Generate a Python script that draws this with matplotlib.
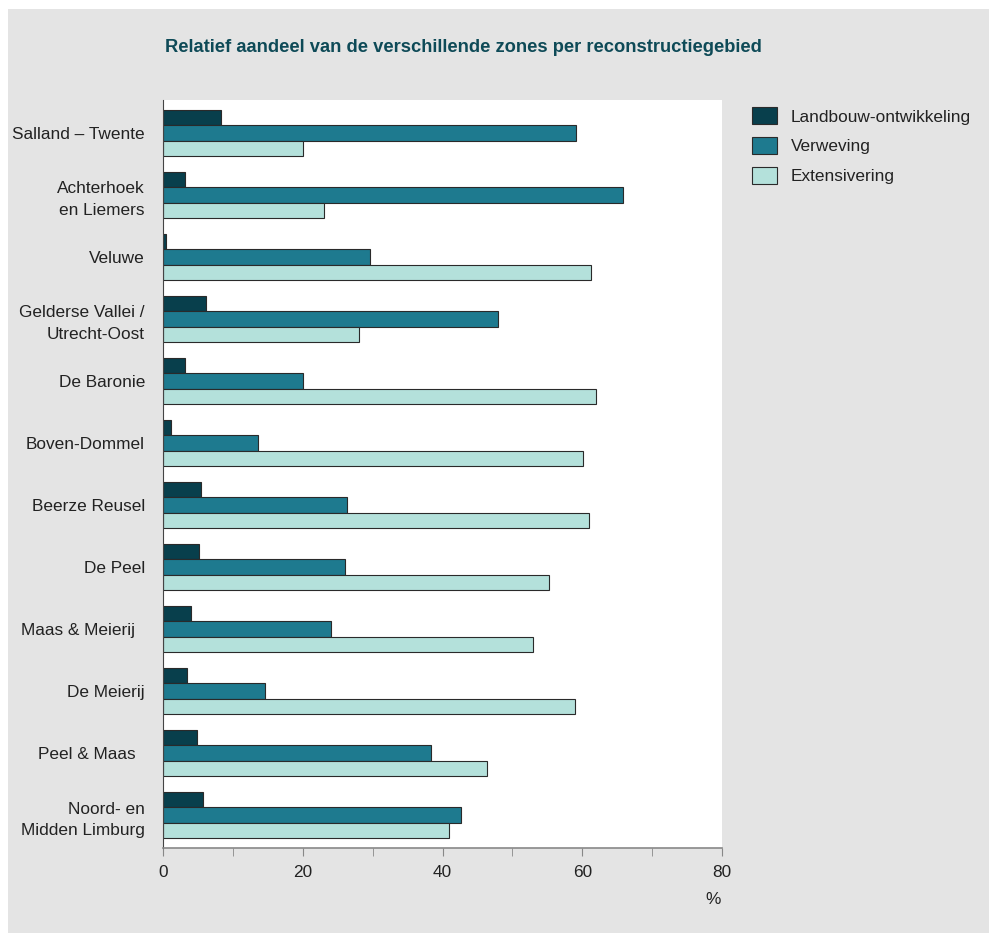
import numpy as np
import matplotlib.pyplot as plt
from matplotlib.patches import Rectangle
from matplotlib.ticker import MultipleLocator

plt.rcParams['font.family'] = ['Liberation Sans', 'DejaVu Sans']

# Reconstructiegebieden en aandeel per zone (%)
gebieden = ["Salland \u2013 Twente", "Achterhoek\nen Liemers", "Veluwe",
            "Gelderse Vallei /\nUtrecht-Oost", "De Baronie", "Boven-Dommel",
            "Beerze Reusel", "De Peel", "Maas & Meierij  ", "De Meierij",
            "Peel & Maas  ", "Noord- en\nMidden Limburg"]
landbouw = [8.3, 3.1, 0.4, 6.1, 3.1, 1.1, 5.4, 5.1, 4.0, 3.4, 4.9, 5.7]
verweving = [59.1, 65.9, 29.6, 48.0, 20.0, 13.6, 26.3, 26.1, 24.1, 14.6, 38.4, 42.6]
extensivering = [20.0, 23.1, 61.3, 28.0, 61.9, 60.1, 61.0, 55.3, 52.9, 59.0, 46.4, 41.0]

reeksen = ["Landbouw-ontwikkeling", "Verweving", "Extensivering"]
kleuren = ["#083f4c", "#1e7a8f", "#b4e1db"]

fs = 12.4

fig = plt.figure(figsize=(9.89, 9.33), dpi=100)
fig.patch.set_facecolor("white")
# grijze achtergrond van het kader
fig.add_artist(Rectangle((8 / 989, 0), 1, 1 - 9 / 933, transform=fig.transFigure,
                         facecolor="#e4e4e4", edgecolor="none", zorder=-10))

ax = fig.add_axes([163 / 989, 1 - 848 / 933, (722 - 163) / 989, (848 - 100) / 933])
ax.set_facecolor("white")

y = np.arange(len(gebieden))
h = 0.25
for i, (waarden, naam, kleur) in enumerate(zip([landbouw, verweving, extensivering], reeksen, kleuren)):
    ax.barh(y + (i - 1) * h, waarden, height=h, color=kleur, edgecolor="#2a2a2a",
            linewidth=0.8, label=naam)

ax.set_xlim(0, 80)
ax.set_ylim(len(gebieden) - 0.47, -0.53)
ax.set_yticks(y)
ax.set_yticklabels(gebieden, fontsize=fs, color="#222222", linespacing=1.55)
ax.tick_params(axis="y", length=0, pad=13)
ax.xaxis.set_major_locator(MultipleLocator(20))
ax.xaxis.set_minor_locator(MultipleLocator(10))
ax.tick_params(axis="x", which="both", direction="out", length=6, color="#888888",
               labelsize=fs, labelcolor="#222222", pad=6)
for s in ["top", "right"]:
    ax.spines[s].set_visible(False)
ax.spines["left"].set_color("#444444")
ax.spines["bottom"].set_color("#888888")
ax.spines["bottom"].set_linewidth(1.2)

fig.text(713 / 989, 1 - 900 / 933, "%", fontsize=fs, color="#222222", ha="center", va="center")
fig.text(463 / 989, 1 - 47 / 933, "Relatief aandeel van de verschillende zones per reconstructiegebied",
         fontsize=13.2, fontweight="bold", color="#0e4a57", ha="center", va="center")

fig.legend(loc="upper left", bbox_to_anchor=(736 / 989, 1 - 92 / 933), frameon=False,
           fontsize=fs, handlelength=1.5, handleheight=1.1, handletextpad=0.8,
           labelspacing=0.74, labelcolor="#222222")

fig.savefig("out.png", dpi=100, facecolor=fig.get_facecolor())
